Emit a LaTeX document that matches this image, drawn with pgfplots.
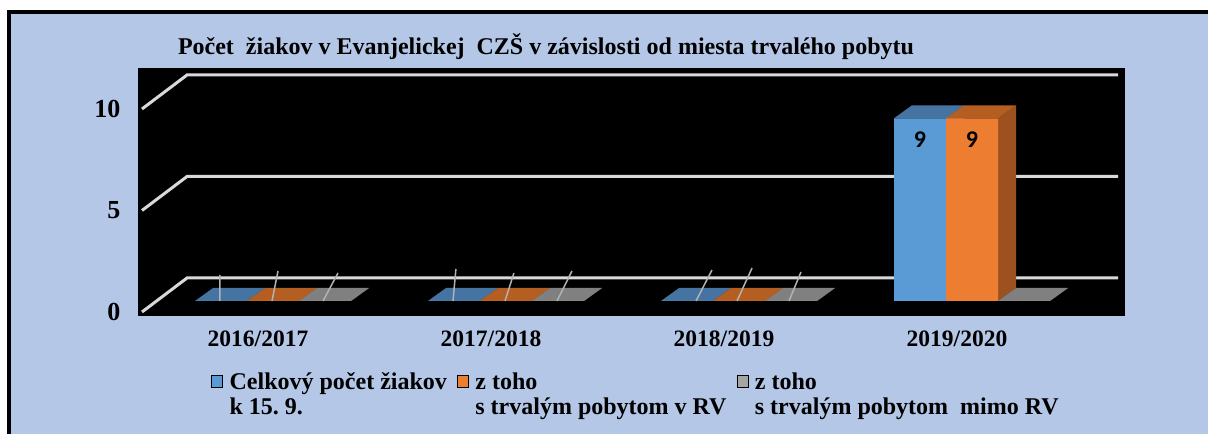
\documentclass[border=0pt]{standalone}
\usepackage{pgfplots}
\pgfplotsset{compat=1.18}
\usepackage{pgfplotstable}
\usepackage{fontspec}
\setmainfont{Liberation Serif}
\newfontfamily\calib{Carlito}
\frenchspacing

\definecolor{bgblue}{HTML}{B4C7E7}
\definecolor{cblue}{HTML}{5B9BD5}
\definecolor{corange}{HTML}{ED7D31}
\definecolor{cgray}{HTML}{A5A5A5}
\definecolor{tblue}{HTML}{4674A2}
\definecolor{torange}{HTML}{B45E22}
\definecolor{tgray}{HTML}{808080}
\definecolor{sblue}{HTML}{3E6890}
\definecolor{sorange}{HTML}{9C511E}
\definecolor{sgray}{HTML}{707070}
\definecolor{gridc}{HTML}{D9D9D9}

% pocty ziakov: celkovo, s pobytom v RV, mimo RV
\pgfplotstableread{
x total rv mimo
0 0 0 0
1 0 0 0
2 0 0 0
3 9 9 0
}\data

% top and right side face of each bar (fake 3D)
\newcommand\barfaces[4]{% column, shift, top colour, side colour
  \pgfplotsforeachungrouped \r in {0,1,2,3}{%
    \pgfplotstablegetelem{\r}{x}\of\data \let\cx\pgfplotsretval
    \pgfplotstablegetelem{\r}{#1}\of\data \let\cv\pgfplotsretval
    \pgfmathsetmacro\xa{\cx+#2-0.1116}%
    \pgfmathsetmacro\xb{\cx+#2+0.1116}%
    \pgfmathsetmacro\xc{\xa+0.0773}%
    \pgfmathsetmacro\xd{\xb+0.0773}%
    \pgfmathsetmacro\vt{\cv+0.64}%
    \edef\tmp{%
      \noexpand\addplot[fill=#4, draw=none, forget plot] coordinates {(\xb,0) (\xb,\cv) (\xd,\vt) (\xd,0.64)} -- cycle;
      \noexpand\addplot[fill=#3, draw=none, forget plot] coordinates {(\xa,\cv) (\xb,\cv) (\xd,\vt) (\xc,\vt)} -- cycle;
    }\tmp
  }}

\pgfplotsset{sq/.style={legend image code/.code={\fill[##1] (0bp,7bp) rectangle (11bp,19bp);}},
  lbl/.style={only marks, mark=none, forget plot,
    visualization depends on={rawy \as \rawy},
    nodes near coords={\ifdim\rawy pt>0pt \pgfmathtruncatemacro\lab{\rawy}\lab\fi},
    nodes near coords style={anchor=north, yshift=-10bp, text=black, font=\calib\bfseries\fontsize{24bp}{24bp}\selectfont}}}

\begin{document}
\begin{tikzpicture}[x=1bp,y=1bp]
\path[use as bounding box] (0,0) rectangle (1208,434);
\clip (0,0) rectangle (1208,434);
\fill[white] (0,0) rectangle (1208,434);
\fill[bgblue] (9,-5) rectangle (1215,422);
\draw[line width=4bp] (9,-5) -- (9,421.5) -- (1215,421.5);
\node[anchor=base, font=\bfseries\fontsize{24bp}{26bp}\selectfont] at (546,379)
  {Počet\ \ žiakov v Evanjelickej\ \ CZŠ v závislosti od miesta trvalého pobytu};

\begin{axis}[
  at={(138bp,118bp)}, anchor=south west,
  width=987bp, height=248bp, scale only axis,
  xmin=-0.5794, xmax=3.6567, ymin=-0.739, ymax=11.478,
  axis background/.style={fill=black},
  axis line style={draw=none}, major tick length=0pt,
  xtick={0,1,2,3}, xticklabels={2016/2017,2017/2018,2018/2019,2019/2020},
  xticklabel style={font=\bfseries\fontsize{23.5bp}{24bp}\selectfont, xshift=-15bp, yshift=-11bp},
  ytick={-0.542,4.458,9.458}, yticklabels={0,5,10},
  yticklabel style={font=\bfseries\fontsize{26bp}{27bp}\selectfont, xshift=-14bp},
  legend columns=3, legend cell align=left,
  legend style={at={(0.074,-0.226)}, anchor=north west, draw=none, fill=none,
    inner sep=0pt, font=\bfseries\fontsize{24bp}{25bp}\selectfont,
    nodes={align=left, inner sep=0pt},
    /tikz/every odd column/.append style={column sep=7bp},
    /tikz/every even column/.append style={column sep=10bp}},
]
% gridlines with the 3D wall edge
\addplot[gridc, line width=3bp, forget plot] coordinates {(-0.5622,-0.542) (-0.3691,1.133) (3.6266,1.133)};
\addplot[gridc, line width=3bp, forget plot] coordinates {(-0.5622,4.458) (-0.3691,6.133) (3.6266,6.133)};
\addplot[gridc, line width=3bp, forget plot] coordinates {(-0.5622,9.458) (-0.3691,11.133) (3.6266,11.133)};

\barfaces{total}{-0.2232}{tblue}{sblue}
\addplot[ybar, bar width=0.2232, bar shift=-0.2232, fill=cblue, draw=none, forget plot]
  table[x=x, y=total] {\data};
\barfaces{rv}{0}{torange}{sorange}
\addplot[ybar, bar width=0.2232, bar shift=0, fill=corange, draw=none, forget plot]
  table[x=x, y=rv] {\data};
\barfaces{mimo}{0.2232}{tgray}{sgray}
\addplot[ybar, bar width=0.2232, bar shift=0.2232, fill=cgray, draw=none, forget plot]
  table[x=x, y=mimo] {\data};

% leader lines of the hidden zero labels
\addplot[gray!60, line width=1.5bp, forget plot, unbounded coords=jump] coordinates {
  (-0.2275,0) (-0.2275,1.281) (nan,nan) (-0.0043,0) (0.0215,1.478) (nan,nan) (0.2146,0) (0.279,1.379) (nan,nan)
  (0.7725,0) (0.785,1.576) (nan,nan) (0.9957,0) (1.034,1.379) (nan,nan) (1.219,0) (1.283,1.478) (nan,nan)
  (1.8155,0) (1.884,1.527) (nan,nan) (1.9914,0) (2.056,1.626) (nan,nan) (2.2146,0) (2.266,1.429)};

% value labels inside the bars
\addplot[lbl] table[x expr=\thisrow{x}-0.2232, y=total] {\data};
\addplot[lbl] table[x=x, y=rv] {\data};

\addlegendimage{sq, fill=cblue}
\addlegendentry{Celkový počet žiakov\\k 15. 9.}
\addlegendimage{sq, fill=corange}
\addlegendentry{z toho\\s trvalým pobytom v RV}
\addlegendimage{sq, fill=cgray}
\addlegendentry{z toho\\s trvalým pobytom\ \ mimo RV}
\end{axis}
\end{tikzpicture}
\end{document}
